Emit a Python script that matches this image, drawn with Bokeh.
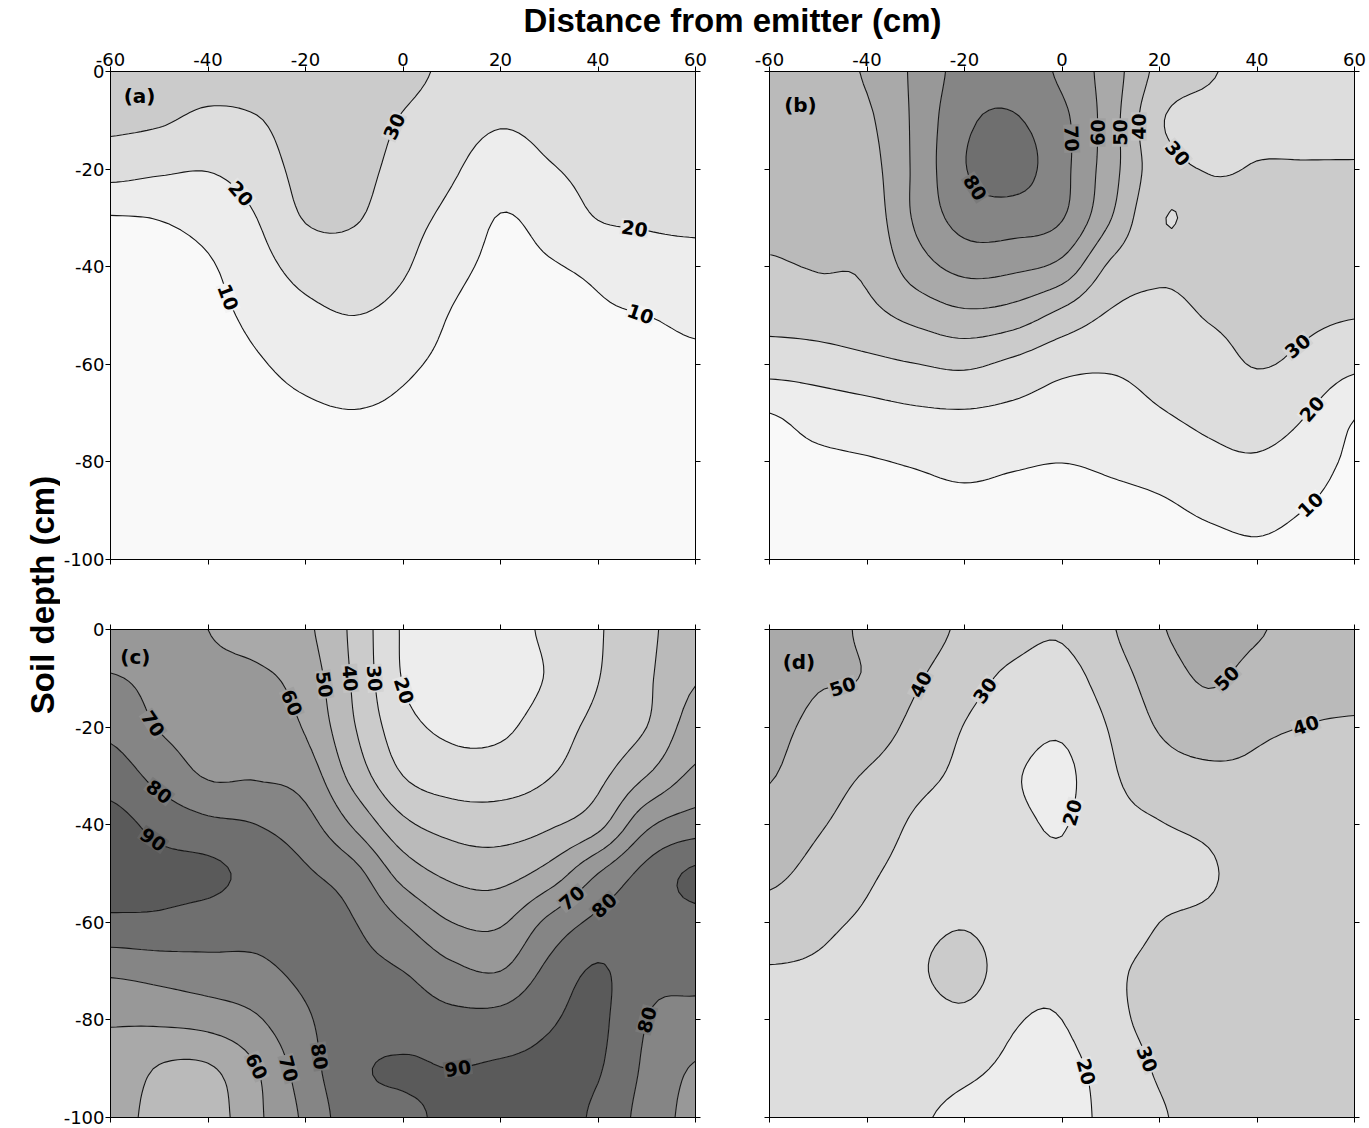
import math

import contourpy
import numpy as np

from bokeh.core.properties import value
from bokeh.embed import file_html
from bokeh.layouts import column, row
from bokeh.models import ColumnDataSource, FixedTicker, LinearAxis, Range1d
from bokeh.plotting import figure
from bokeh.resources import INLINE

# Sampling grid of the soil profiles (cm)
DISTANCE = [-60, -50, -40, -30, -20, -10, 0, 10, 20, 30, 40, 50, 60]
DEPTH = [0, -10, -20, -30, -40, -50, -60, -70, -80, -90, -100]

X_TICKS = [-60, -40, -20, 0, 20, 40, 60]
Y_TICKS = [0, -20, -40, -60, -80, -100]

LEVELS = [0, 10, 20, 30, 40, 50, 60, 70, 80, 90, 100]
BAND_COLORS = ["#f9f9f9", "#ededed", "#dddddd", "#cbcbcb", "#bababa",
               "#a9a9a9", "#989898", "#858585", "#6f6f6f", "#5a5a5a"]

# One list per distance (left to right), values from the surface downwards.
PANEL_A = [
    [36, 32.2, 23.9, 9.5, 8.3, 6.6, 5.0, 4.5, 4.0, 3.5, 3.0],
    [37, 31.2, 21.6, 10.3, 8.3, 6.7, 5.0, 4.5, 4.0, 3.5, 3.0],
    [35, 27.7, 20.4, 13.2, 9.1, 7.5, 5.8, 4.7, 4.1, 3.6, 3.0],
    [35, 29.4, 24.7, 20.0, 16.2, 12.3, 9.2, 7.1, 5.0, 4.0, 3.0],
    [37, 35.0, 33.2, 30.6, 23.6, 17.5, 12.5, 8.8, 6.3, 4.3, 3.0],
    [37, 35.0, 33.2, 30.8, 25.3, 20.0, 14.7, 9.7, 7.1, 4.7, 3.0],
    [33, 29.3, 26.6, 23.8, 21.1, 16.8, 11.6, 8.4, 6.1, 4.3, 3.0],
    [28, 24.7, 21.3, 17.4, 13.0, 9.5, 7.7, 5.9, 4.6, 3.8, 3.0],
    [26, 21.0, 15.0, 9.6, 7.8, 5.9, 4.8, 4.3, 3.9, 3.4, 3.0],
    [27, 23.2, 19.2, 13.6, 9.3, 7.1, 5.0, 4.5, 4.0, 3.5, 3.0],
    [28, 25.4, 22.9, 20.3, 12.0, 8.9, 7.0, 5.0, 4.3, 3.7, 3.0],
    [28, 25.7, 23.3, 21.0, 16.3, 10.0, 8.0, 6.0, 4.6, 3.8, 3.0],
    [28, 25.8, 23.5, 21.3, 17.6, 11.7, 8.7, 6.9, 5.0, 4.0, 3.0],
]

PANEL_B = [
    [46, 44.4, 42.9, 41.3, 39.2, 33.4, 24.3, 10.0, 7.7, 5.3, 3.0],
    [47, 45.4, 43.7, 42.1, 40.5, 34.7, 25.2, 14.0, 8.4, 5.7, 3.0],
    [51, 48.4, 46.1, 43.9, 41.6, 37.3, 27.4, 16.4, 9.3, 6.1, 3.0],
    [62, 62.0, 62.0, 61.5, 55.0, 43.0, 29.8, 18.5, 10.8, 6.7, 3.0],
    [74, 78.0, 79.5, 74.0, 63.1, 47.7, 31.7, 19.2, 12.4, 7.2, 3.0],
    [76, 80.8, 83.9, 75.0, 62.1, 45.4, 27.7, 17.8, 11.0, 6.8, 3.0],
    [68, 72.5, 73.0, 70.6, 56.9, 37.1, 22.6, 15.8, 10.1, 6.5, 3.0],
    [55, 54.5, 54.0, 50.4, 38.1, 28.8, 21.2, 16.0, 11.4, 7.1, 3.0],
    [37, 31.2, 34.0, 30.8, 31.5, 27.3, 23.5, 19.4, 13.7, 8.2, 3.0],
    [31, 27.0, 29.7, 32.6, 32.8, 30.5, 26.6, 22.4, 17.4, 11.4, 6.0],
    [27, 28.6, 30.3, 32.2, 34.0, 32.0, 30.4, 24.5, 18.9, 13.1, 8.0],
    [26, 28.2, 30.4, 32.4, 33.6, 31.5, 27.8, 20.4, 15.0, 9.8, 6.0],
    [26, 28.2, 30.4, 32.1, 32.1, 30.4, 22.2, 10.8, 8.1, 6.0, 4.0],
]

PANEL_C = [
    [65, 70.7, 77.4, 85.5, 93.5, 94.5, 88.0, 71.8, 60.8, 58.6, 57],
    [65, 67.3, 69.5, 76.7, 87.1, 92.5, 88.0, 73.8, 61.8, 49.2, 45],
    [60, 63.3, 66.4, 69.2, 82.4, 92.3, 85.5, 76.0, 63.8, 48.8, 45],
    [56, 62.0, 66.0, 69.2, 80.0, 86.7, 83.7, 77.5, 68.9, 59.7, 58],
    [52, 55.5, 59.0, 65.5, 73.8, 81.4, 86.0, 82.3, 78.7, 75.3, 72],
    [37.5, 38.5, 40.5, 46.4, 58.6, 73.4, 80.3, 82.8, 85.4, 88.0, 86],
    [19, 19.5, 23.8, 30.0, 42.5, 56.2, 70.0, 80.0, 85.6, 91.0, 88],
    [15, 14.0, 18.0, 25.0, 36.3, 47.8, 60.0, 72.5, 82.9, 90.0, 92],
    [16, 14.0, 18.1, 25.2, 35.2, 46.4, 58.8, 70.0, 83.5, 91.2, 94],
    [22, 21.0, 25.3, 29.6, 38.7, 54.0, 72.5, 82.6, 89.0, 91.8, 94],
    [29, 29.7, 32.8, 37.4, 46.9, 70.0, 82.5, 91.0, 92.0, 90.8, 88],
    [38, 38.5, 40.0, 50.0, 68.0, 83.1, 85.6, 82.8, 80.0, 78.0, 76],
    [45, 49.2, 55.0, 62.2, 75.0, 91.7, 87.4, 83.0, 76.7, 69.1, 67],
]

PANEL_D = [
    [56, 54.2, 52.3, 50.5, 46.7, 42.1, 35.6, 29.4, 27.6, 25.8, 24],
    [53, 50.8, 47.9, 44.5, 41.0, 36.6, 31.8, 29.0, 27.3, 25.7, 24],
    [48.7, 49.4, 45.5, 39.1, 35.2, 31.2, 29.0, 27.5, 26.0, 24.5, 23],
    [45, 41.3, 37.1, 32.7, 28.8, 27.5, 27.5, 28.5, 25.6, 23.4, 21],
    [38, 33.7, 29.7, 27.8, 25.9, 26.5, 29.2, 34.0, 27.2, 21.7, 18],
    [33, 28.1, 24.5, 21.0, 22.2, 23.4, 25.0, 24.0, 20.7, 18.4, 16],
    [31, 26.3, 21.5, 17.7, 19.5, 21.8, 24.0, 22.0, 20.0, 17.0, 14],
    [39, 34.9, 30.8, 28.6, 26.8, 25.0, 26.5, 28.5, 27.5, 24.3, 24],
    [49, 44.9, 40.8, 35.2, 29.6, 27.0, 30.0, 31.7, 32.7, 31.0, 29],
    [54, 51.0, 45.2, 37.7, 32.2, 28.6, 32.0, 33.5, 35.0, 34.5, 34],
    [51, 46.4, 41.3, 38.7, 36.9, 36.0, 36.0, 36.0, 36.0, 36.5, 36],
    [46, 42.9, 39.9, 38.0, 36.0, 36.2, 36.3, 36.5, 36.7, 38.0, 37],
    [46, 42.4, 39.4, 37.9, 36.5, 36.5, 36.6, 36.8, 37.0, 38.5, 37],
]

# Where each isoline carries its value: (level, distance, depth)
LABELS_A = [(30, -0.5, -12.0), (20, -34.6, -25.8), (20, 47.5, -33.7),
            (10, -35.0, -46.4), (10, 48.3, -49.1)]
LABELS_B = [(80, -17.7, -23.3), (70, 2.2, -13.7), (60, 6.9, -12.0), (50, 11.0, -12.3),
            (40, 16.2, -11.7), (30, 23.7, -17.5), (30, 49.3, -57.0), (20, 51.0, -69.3),
            (10, 50.6, -89.1)]
LABELS_C = [(60, -21.2, -14.3), (50, -15.7, -10.6), (40, -11.0, -10.6), (30, -6.3, -10.6),
            (20, -0.4, -13.3), (70, -51.8, -19.8), (80, -50.6, -33.7), (90, -50.6, -42.3),
            (70, 33.7, -54.5), (80, 40.4, -56.6), (60, -29.8, -89.3), (70, -22.4, -89.6),
            (80, -13.0, -87.3), (90, 11.8, -90.6), (80, 49.8, -79.8)]
LABELS_D = [(50, -45.3, -11.3), (40, -29.0, -11.9), (30, -16.2, -12.3), (50, 33.3, -9.6),
            (40, 50.1, -19.4), (20, 2.6, -37.8), (20, 6.2, -90.0), (30, 15.8, -88.6)]

FRAME_W, FRAME_H = 585, 488
PX_X = FRAME_W / 120.0
PX_Y = FRAME_H / 100.0
REFINE = 8
TICK_FONT = "DejaVu Sans"
HEAD_FONT = "Liberation Sans"


def refine(grid, factor):
    """Catmull-Rom resampling of the coarse grid so the isolines are drawn smoothly."""
    g = np.asarray(grid, dtype=float)
    for axis in (0, 1):
        n = g.shape[axis]
        t = np.linspace(0, n - 1, (n - 1) * factor + 1)
        i = np.minimum(np.floor(t).astype(int), n - 2)
        f = t - i
        weights = [(-f ** 3 + 2 * f ** 2 - f) / 2,
                   (3 * f ** 3 - 5 * f ** 2 + 2) / 2,
                   (-3 * f ** 3 + 4 * f ** 2 + f) / 2,
                   (f ** 3 - f ** 2) / 2]
        shape = [1, 1]
        shape[axis] = -1
        out = 0.0
        for k, w in zip(range(-1, 3), weights):
            idx = np.clip(i + k, 0, n - 1)
            out = out + np.take(g, idx, axis=axis) * w.reshape(shape)
        g = out
    return g


def blend(c1, c2):
    a = [int(c1[i:i + 2], 16) for i in (1, 3, 5)]
    b = [int(c2[i:i + 2], 16) for i in (1, 3, 5)]
    return "#%02x%02x%02x" % tuple((u + v) // 2 for u, v in zip(a, b))


def label_source(xg, yg, zg, hints):
    gen = contourpy.contour_generator(xg, yg, zg, line_type=contourpy.LineType.Separate)
    data = dict(x=[], y=[], text=[], angle=[], bg=[])
    for level, hx, hy in hints:
        best = None
        for ln in gen.lines(level):
            d = ((ln[:, 0] - hx) * PX_X) ** 2 + ((ln[:, 1] - hy) * PX_Y) ** 2
            k = int(np.argmin(d))
            if best is None or d[k] < best[0]:
                best = (d[k], ln, k)
        if best is None:
            continue
        _, ln, k = best
        p0 = ln[max(k - 4, 0)]
        p1 = ln[min(k + 4, len(ln) - 1)]
        ang = math.atan2((p1[1] - p0[1]) * PX_Y, (p1[0] - p0[0]) * PX_X)
        if ang > math.pi / 2:
            ang -= math.pi
        elif ang <= -math.pi / 2:
            ang += math.pi
        band = LEVELS.index(level)
        data["x"].append(float(ln[k, 0]))
        data["y"].append(float(ln[k, 1]))
        data["text"].append(str(level))
        data["angle"].append(ang)
        data["bg"].append(blend(BAND_COLORS[band - 1], BAND_COLORS[band]))
    return ColumnDataSource(data)


def add_axis(p, side, ticks, labelled):
    ax = LinearAxis(ticker=FixedTicker(ticks=ticks),
                    axis_line_color="black", axis_line_width=1,
                    major_tick_line_color="black", major_tick_out=5, major_tick_in=0,
                    minor_tick_line_color=None,
                    major_label_text_font=TICK_FONT, major_label_text_font_size="18px",
                    major_label_text_color="black", major_label_standoff=1)
    if labelled:
        # plain hyphen-minus, as printed on the original axes
        ax.major_label_overrides = {float(t): str(t) for t in ticks}
    else:
        ax.major_label_overrides = {float(t): "" for t in ticks}
        ax.major_label_text_font_size = "0px"
        ax.major_label_standoff = 0
    p.add_layout(ax, side)


def panel(values, hints, tag, tag_pos, top_labels, left_labels, borders):
    left, right, top, bottom = borders
    p = figure(title=None, x_range=Range1d(-60, 60), y_range=Range1d(-100, 0),
               frame_width=FRAME_W, frame_height=FRAME_H,
               min_border_left=left, min_border_right=right,
               min_border_top=top, min_border_bottom=bottom,
               x_axis_location=None, y_axis_location=None,
               toolbar_location=None, output_backend="svg",
               background_fill_color="white", border_fill_color="white",
               outline_line_color="black", outline_line_width=1)
    for g in p.grid:
        g.visible = False

    coarse = np.array(values, dtype=float).T[::-1]          # rows: depth -100 .. 0
    zg = refine(coarse, REFINE)
    xs = np.linspace(DISTANCE[0], DISTANCE[-1], zg.shape[1])
    ys = np.linspace(DEPTH[-1], DEPTH[0], zg.shape[0])
    xg, yg = np.meshgrid(xs, ys)

    p.contour(xg, yg, zg, LEVELS, fill_color=BAND_COLORS,
              line_color="#161616", line_width=1.1)

    src = label_source(xg, yg, zg, hints)
    p.text(x="x", y="y", text="text", angle="angle", source=src,
           text_align="center", text_baseline="middle",
           text_font=value(TICK_FONT), text_font_size="19px", text_font_style="bold",
           text_color="black", background_fill_color="bg", background_fill_alpha=1.0,
           padding=1)

    p.text(x=[tag_pos[0]], y=[tag_pos[1]], text=[tag], text_align="left",
           text_baseline="middle", text_font=value(TICK_FONT), text_font_size="20px",
           text_font_style="bold", text_color="black")

    add_axis(p, "above", X_TICKS, top_labels)
    add_axis(p, "below", X_TICKS, False)
    add_axis(p, "left", Y_TICKS, left_labels)
    add_axis(p, "right", Y_TICKS, False)
    return p


pa = panel(PANEL_A, LABELS_A, "(a)", (-57.3, -5.1), True, True, (48, 37, 31, 35))
pb = panel(PANEL_B, LABELS_B, "(b)", (-57.0, -6.9), True, False, (37, 17, 31, 35))
pc = panel(PANEL_C, LABELS_C, "(c)", (-58.0, -5.6), False, True, (48, 37, 35, 10))
pd = panel(PANEL_D, LABELS_D, "(d)", (-57.3, -6.6), False, False, (37, 17, 35, 10))

TITLE_H = 40
title = figure(title=None, width=1369, height=TITLE_H,
               x_range=Range1d(0, 1369), y_range=Range1d(0, TITLE_H),
               min_border=0, x_axis_location=None, y_axis_location=None,
               toolbar_location=None, output_backend="svg", outline_line_color=None)
for g in title.grid:
    g.visible = False
title.text(x=[732], y=[TITLE_H - 20], text=["Distance from emitter (cm)"], text_align="center",
           text_baseline="middle", text_font=value(HEAD_FONT), text_font_size="33px",
           text_font_style="bold", text_color="black")

SIDE_W, SIDE_H = 60, 1087
side = figure(title=None, width=SIDE_W, height=SIDE_H,
              x_range=Range1d(0, SIDE_W), y_range=Range1d(0, SIDE_H),
              min_border=0, x_axis_location=None, y_axis_location=None,
              toolbar_location=None, output_backend="svg", outline_line_color=None)
for g in side.grid:
    g.visible = False
side.text(x=[42], y=[532.5], text=["Soil depth (cm)"], angle=[math.pi / 2],
          text_align="center", text_baseline="middle", text_font=value(HEAD_FONT),
          text_font_size="33px", text_font_style="bold", text_color="black")

layout = column(title, row(side, column(row(pa, pb), row(pc, pd))))

with open("out.html", "w") as fh:
    fh.write(file_html(layout, INLINE))
